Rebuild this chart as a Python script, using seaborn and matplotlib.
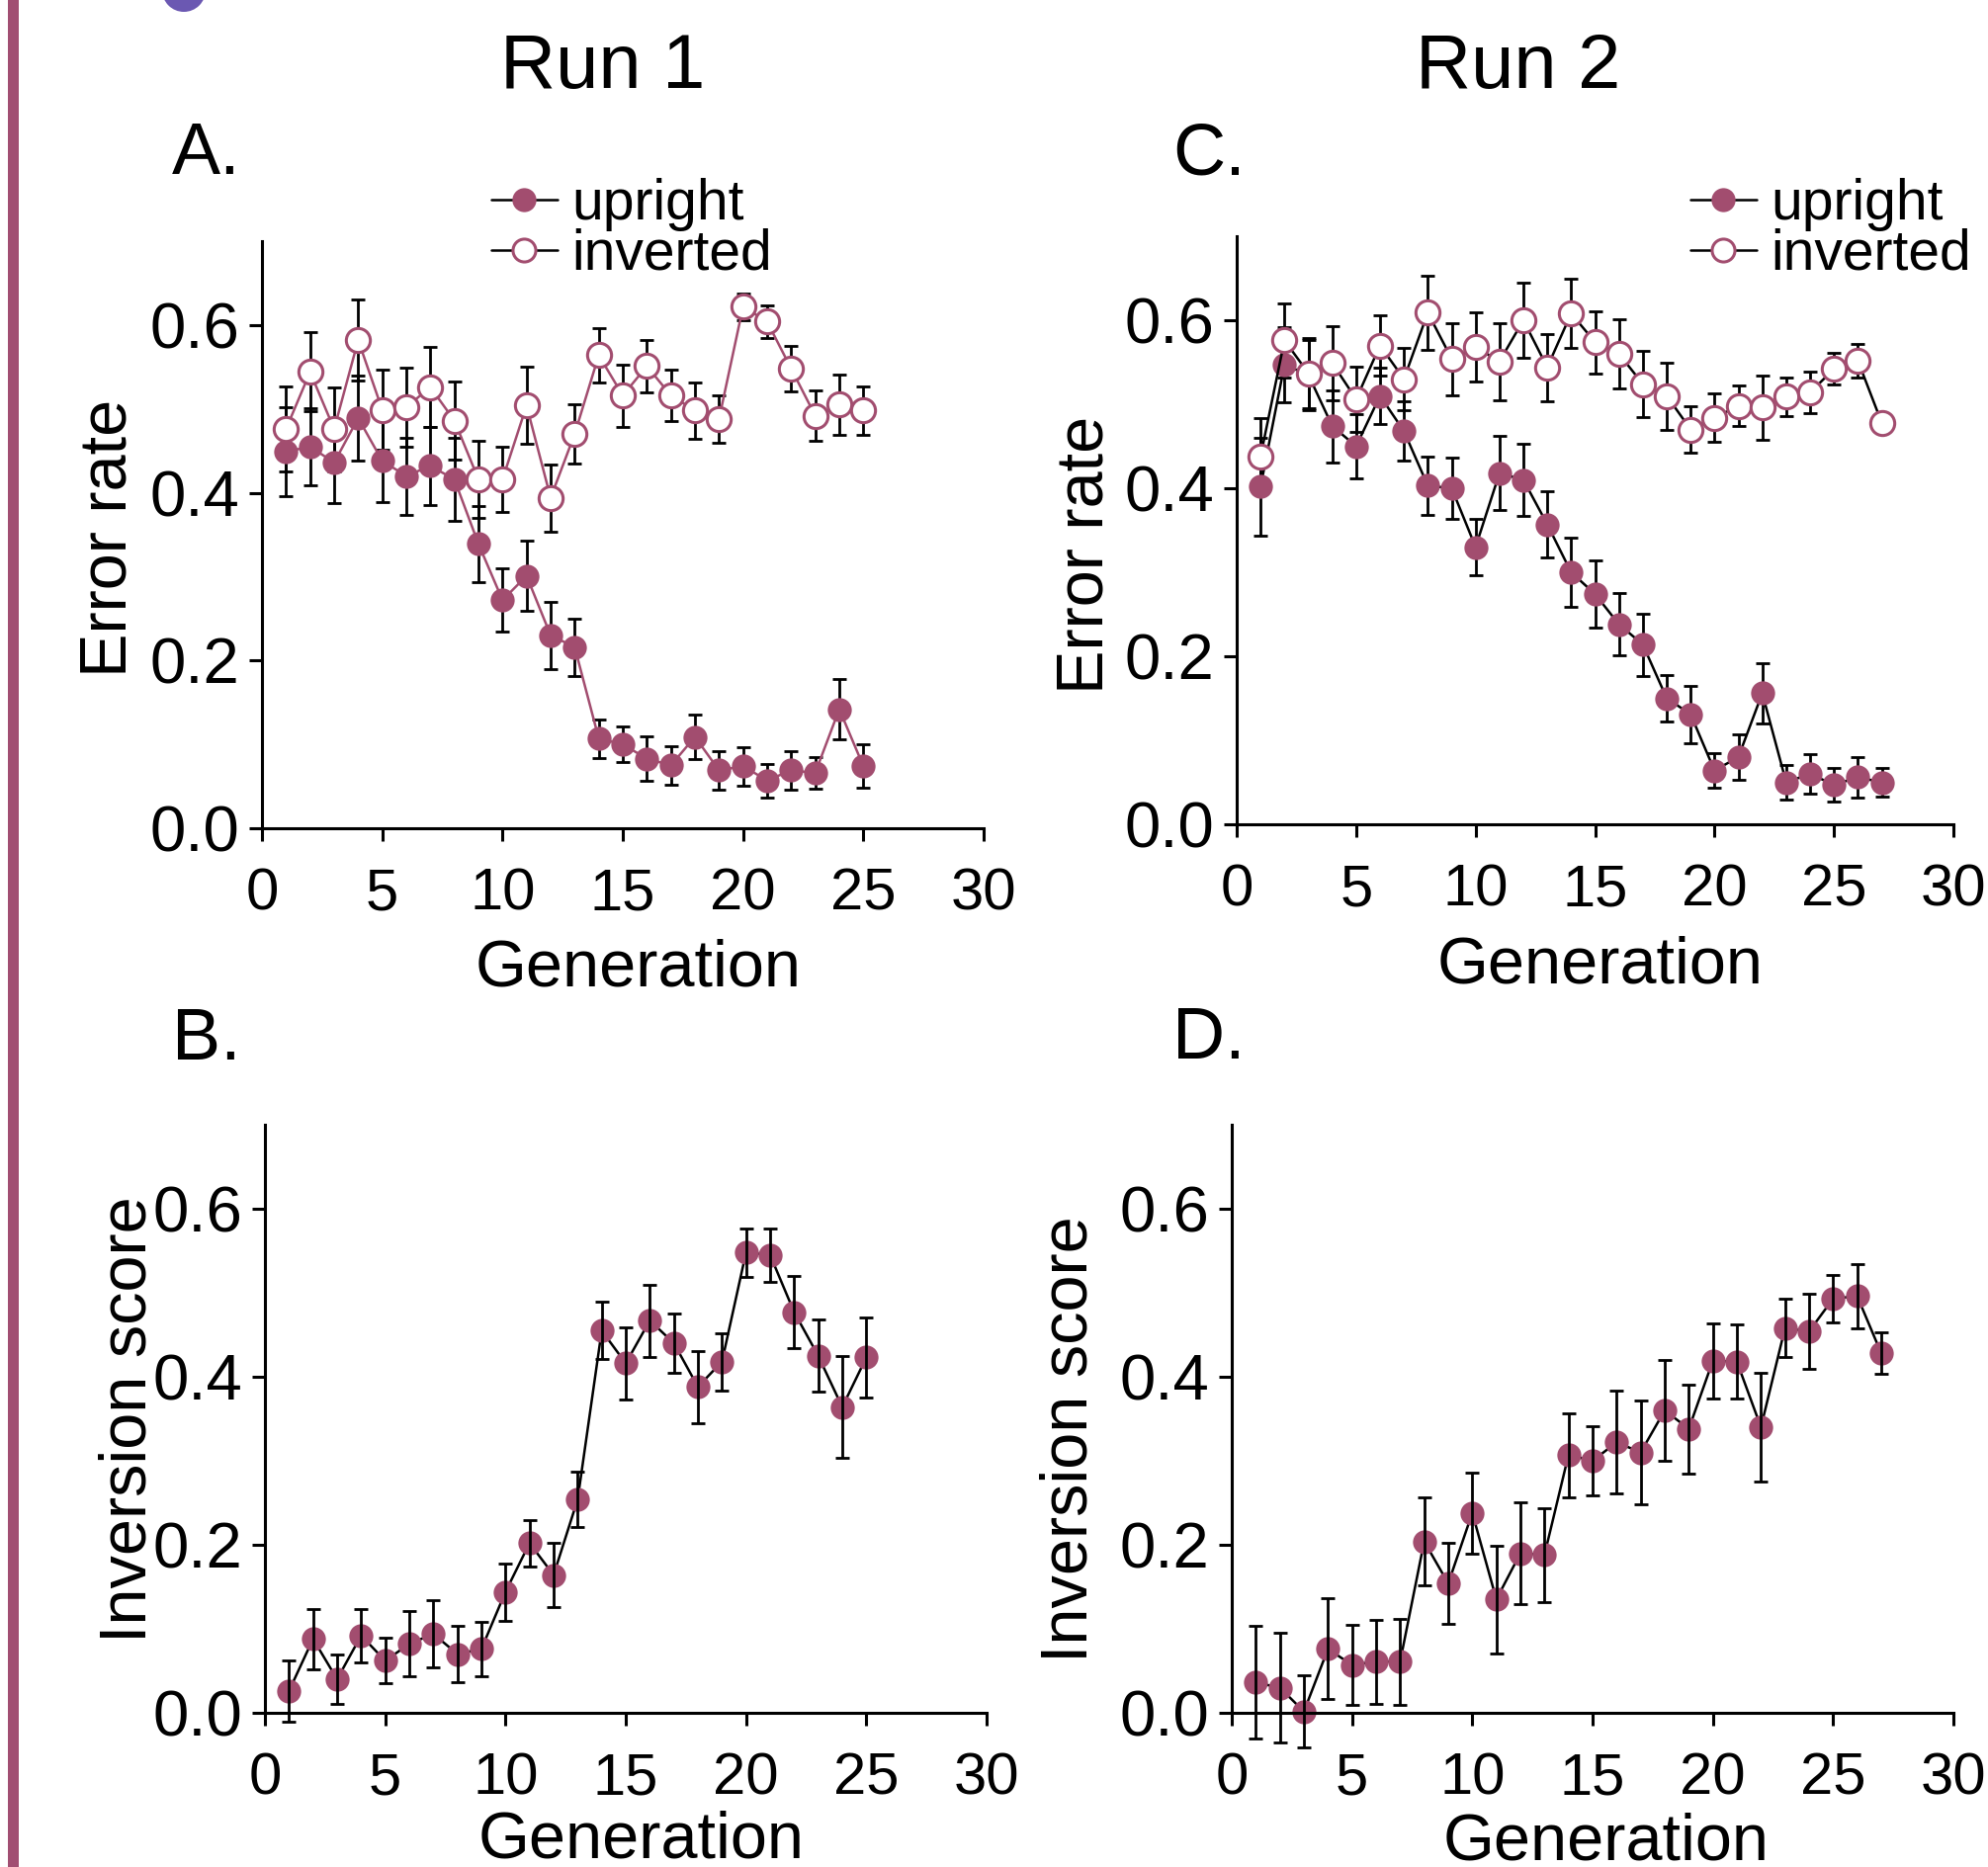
import matplotlib
matplotlib.use("Agg")
import matplotlib.pyplot as plt
from matplotlib.lines import Line2D
from matplotlib.patches import Ellipse, Rectangle
import seaborn as sns
import numpy as np

# ---------------- data ----------------
gen_run1 = list(range(1, 26))
gen_run2 = list(range(1, 28))

A_upright = [0.449, 0.455, 0.436, 0.489, 0.438, 0.420, 0.432, 0.416, 0.339, 0.272,
             0.301, 0.230, 0.216, 0.107, 0.100, 0.083, 0.075, 0.109, 0.069, 0.074,
             0.057, 0.069, 0.066, 0.142, 0.074]
A_upright_err = [0.053, 0.046, 0.048, 0.051, 0.049, 0.046, 0.047, 0.049, 0.045, 0.038,
                 0.042, 0.040, 0.034, 0.023, 0.021, 0.027, 0.023, 0.026, 0.023, 0.023,
                 0.020, 0.023, 0.019, 0.036, 0.026]
A_inverted = [0.476, 0.544, 0.476, 0.582, 0.499, 0.502, 0.526, 0.486, 0.416, 0.416,
              0.504, 0.394, 0.470, 0.564, 0.516, 0.551, 0.516, 0.498, 0.488, 0.622,
              0.604, 0.548, 0.492, 0.505, 0.498]
A_inverted_err = [0.051, 0.047, 0.050, 0.048, 0.048, 0.047, 0.048, 0.047, 0.046, 0.039,
                  0.046, 0.040, 0.035, 0.032, 0.037, 0.031, 0.031, 0.034, 0.028, 0.016,
                  0.019, 0.027, 0.030, 0.036, 0.029]

C_upright = [0.402, 0.547, 0.535, 0.474, 0.450, 0.510, 0.468, 0.403, 0.400, 0.330,
             0.418, 0.410, 0.357, 0.300, 0.274, 0.238, 0.214, 0.150, 0.131, 0.064,
             0.080, 0.156, 0.050, 0.060, 0.047, 0.056, 0.050]
C_upright_err = [0.058, 0.045, 0.042, 0.043, 0.038, 0.033, 0.035, 0.035, 0.036, 0.034,
                 0.044, 0.043, 0.039, 0.041, 0.040, 0.037, 0.037, 0.028, 0.034, 0.021,
                 0.027, 0.036, 0.021, 0.023, 0.020, 0.024, 0.017]
C_inverted = [0.438, 0.576, 0.537, 0.549, 0.506, 0.570, 0.530, 0.609, 0.554, 0.568,
              0.551, 0.600, 0.544, 0.608, 0.574, 0.560, 0.524, 0.510, 0.470, 0.484,
              0.498, 0.496, 0.509, 0.514, 0.542, 0.552, 0.478]
C_inverted_err = [0.045, 0.044, 0.042, 0.044, 0.039, 0.036, 0.037, 0.044, 0.043, 0.041,
                  0.046, 0.045, 0.040, 0.041, 0.037, 0.041, 0.039, 0.040, 0.028, 0.029,
                  0.024, 0.038, 0.023, 0.025, 0.019, 0.020, 0.012]

B_score = [0.026, 0.088, 0.040, 0.092, 0.062, 0.082, 0.094, 0.070, 0.076, 0.144,
           0.202, 0.164, 0.254, 0.455, 0.416, 0.467, 0.440, 0.388, 0.418, 0.548,
           0.545, 0.477, 0.425, 0.364, 0.423]
B_score_err = [0.036, 0.036, 0.029, 0.032, 0.027, 0.039, 0.040, 0.033, 0.032, 0.034,
               0.028, 0.038, 0.033, 0.034, 0.043, 0.043, 0.035, 0.043, 0.034, 0.029,
               0.032, 0.043, 0.043, 0.061, 0.048]

D_score = [0.036, 0.030, 0.0015, 0.076, 0.057, 0.061, 0.061, 0.204, 0.154, 0.238,
           0.135, 0.190, 0.188, 0.307, 0.300, 0.322, 0.310, 0.360, 0.338, 0.419,
           0.418, 0.340, 0.458, 0.454, 0.493, 0.496, 0.428]
D_score_err = [0.067, 0.065, 0.043, 0.060, 0.048, 0.050, 0.051, 0.052, 0.048, 0.048,
               0.064, 0.061, 0.056, 0.050, 0.041, 0.061, 0.062, 0.060, 0.053, 0.045,
               0.044, 0.065, 0.035, 0.045, 0.028, 0.038, 0.025]

x_ticks = [0, 5, 10, 15, 20, 25, 30]
y_ticks = [0.0, 0.2, 0.4, 0.6]
y_tick_labels = ["0.0", "0.2", "0.4", "0.6"]

# ---------------- style ----------------
sns.set_theme(style="ticks")
plt.rcParams['font.family'] = ['Liberation Sans', 'DejaVu Sans']
plt.rcParams['text.color'] = 'black'
plt.rcParams['axes.labelcolor'] = 'black'
plt.rcParams['xtick.color'] = 'black'
plt.rcParams['ytick.color'] = 'black'

MAROON = '#A24D6F'
W, H = 2011, 1889
fig = plt.figure(figsize=(W / 100, H / 100), dpi=100)


def px_ax(left, right, bottom, top):
    return [left / W, 1 - bottom / H, (right - left) / W, (bottom - top) / H]


axA = fig.add_axes(px_ax(265, 995, 838, 244))
axC = fig.add_axes(px_ax(1251, 1976, 834, 239))
axB = fig.add_axes(px_ax(268, 998, 1733, 1138))
axD = fig.add_axes(px_ax(1246, 1976, 1733, 1138))

MS = 17.5
LW = 1.8


def style_axis(ax):
    ax.set_xlim(0, 30)
    ax.set_ylim(0, 0.7)
    ax.set_xticks(x_ticks)
    ax.set_xticklabels([str(t) for t in x_ticks])
    ax.set_yticks(y_ticks)
    ax.set_yticklabels(y_tick_labels)
    sns.despine(ax=ax)
    for s in ['left', 'bottom']:
        ax.spines[s].set_linewidth(2.2)
        ax.spines[s].set_color('black')
    ax.tick_params(axis='both', direction='out', length=9.4, width=2.2,
                   color='black', labelcolor='black')
    ax.tick_params(axis='x', labelsize=43, pad=19)
    ax.tick_params(axis='y', labelsize=47, pad=7)
    ax.set_xlabel("")
    ax.set_ylabel("")
    ax.set_facecolor('white')


def errbars(ax, x, y, e, z):
    cont = ax.errorbar(x, y, yerr=e, fmt='none', ecolor='black', elinewidth=2.0,
                       capsize=5, capthick=2.0, zorder=z)
    for art in cont.get_children():
        art.set_clip_on(False)


def series(ax, x, y, line_color, face, z):
    sns.lineplot(x=x, y=y, ax=ax, color=line_color, linewidth=LW, marker='o',
                 markersize=MS, markerfacecolor=face, markeredgecolor=MAROON,
                 markeredgewidth=2.2 if face == 'white' else 0, zorder=z,
                 legend=False)
    for ln in ax.lines[-1:]:
        ln.set_clip_on(False)


# Panel A
errbars(axA, gen_run1, A_upright, A_upright_err, 2)
errbars(axA, gen_run1, A_inverted, A_inverted_err, 2)
series(axA, gen_run1, A_upright, MAROON, MAROON, 3)
series(axA, gen_run1, A_inverted, MAROON, 'white', 4)

# Panel C
errbars(axC, gen_run2, C_upright, C_upright_err, 2)
errbars(axC, gen_run2, C_inverted, C_inverted_err, 2)
series(axC, gen_run2, C_upright, 'black', MAROON, 3)
series(axC, gen_run2, C_inverted, 'black', 'white', 4)

# Panel B / D
series(axB, gen_run1, B_score, 'black', MAROON, 2)
errbars(axB, gen_run1, B_score, B_score_err, 3)
series(axD, gen_run2, D_score, 'black', MAROON, 2)
errbars(axD, gen_run2, D_score, D_score_err, 3)

for ax in (axA, axB, axC, axD):
    style_axis(ax)

# legends
handles = [
    Line2D([], [], color='black', linewidth=LW, marker='o', markersize=MS,
           markerfacecolor=MAROON, markeredgecolor=MAROON, markeredgewidth=0),
    Line2D([], [], color='black', linewidth=LW, marker='o', markersize=MS * 0.95,
           markerfacecolor='white', markeredgecolor=MAROON, markeredgewidth=2.2),
]
for ax, xl in ((axA, 497), (axC, 1710)):
    leg = ax.legend(handles, ["upright", "inverted"], loc='upper left',
                    bbox_to_anchor=(xl / W, 1 - 180 / H),
                    bbox_transform=fig.transFigure, frameon=False, fontsize=41,
                    handlelength=1.17, handletextpad=0.26, labelspacing=-0.06,
                    borderpad=0, borderaxespad=0)
    leg.set_zorder(10)
    for t in leg.get_texts():
        t.set_color('black')

# text
def ftext(x, y, s, size, **kw):
    fig.text(x / W, 1 - y / H, s, fontsize=size, color='black', **kw)

ftext(610, 89, "Run 1", 56, ha='center', va='baseline')
ftext(1536, 89, "Run 2", 56, ha='center', va='baseline')
ftext(174, 176, "A.", 53, ha='left', va='baseline')
ftext(1186, 177, "C.", 53, ha='left', va='baseline')
ftext(174, 1072, "B.", 53, ha='left', va='baseline')
ftext(1186, 1071, "D.", 53, ha='left', va='baseline')

ftext(646, 998, "Generation", 48, ha='center', va='baseline')
ftext(1619, 994, "Generation", 48, ha='center', va='baseline')
ftext(649, 1880, "Generation", 48, ha='center', va='baseline')
ftext(1625, 1882, "Generation", 48, ha='center', va='baseline')

ftext(128, 544, "Error rate", 48, ha='center', va='baseline', rotation=90,
      rotation_mode='anchor')
ftext(1116, 561, "Error rate", 48, ha='center', va='baseline', rotation=90,
      rotation_mode='anchor')
ftext(147, 1436, "Inversion score", 48, ha='center', va='baseline', rotation=90,
      rotation_mode='anchor')
ftext(1100, 1456, "Inversion score", 48, ha='center', va='baseline', rotation=90,
      rotation_mode='anchor')

# decorations: left bar and partial purple shape at top
fig.patches.append(Rectangle((8 / W, 0), 11 / W, 1, transform=fig.transFigure,
                             facecolor='#A14E72', edgecolor='none', zorder=0))
fig.patches.append(Ellipse((186 / W, 1 + 10 / H), 44 / W, 44 / H,
                           transform=fig.transFigure, facecolor='#6B58B2',
                           edgecolor='none', zorder=0))

fig.savefig("out.png", dpi=100, facecolor='white')
